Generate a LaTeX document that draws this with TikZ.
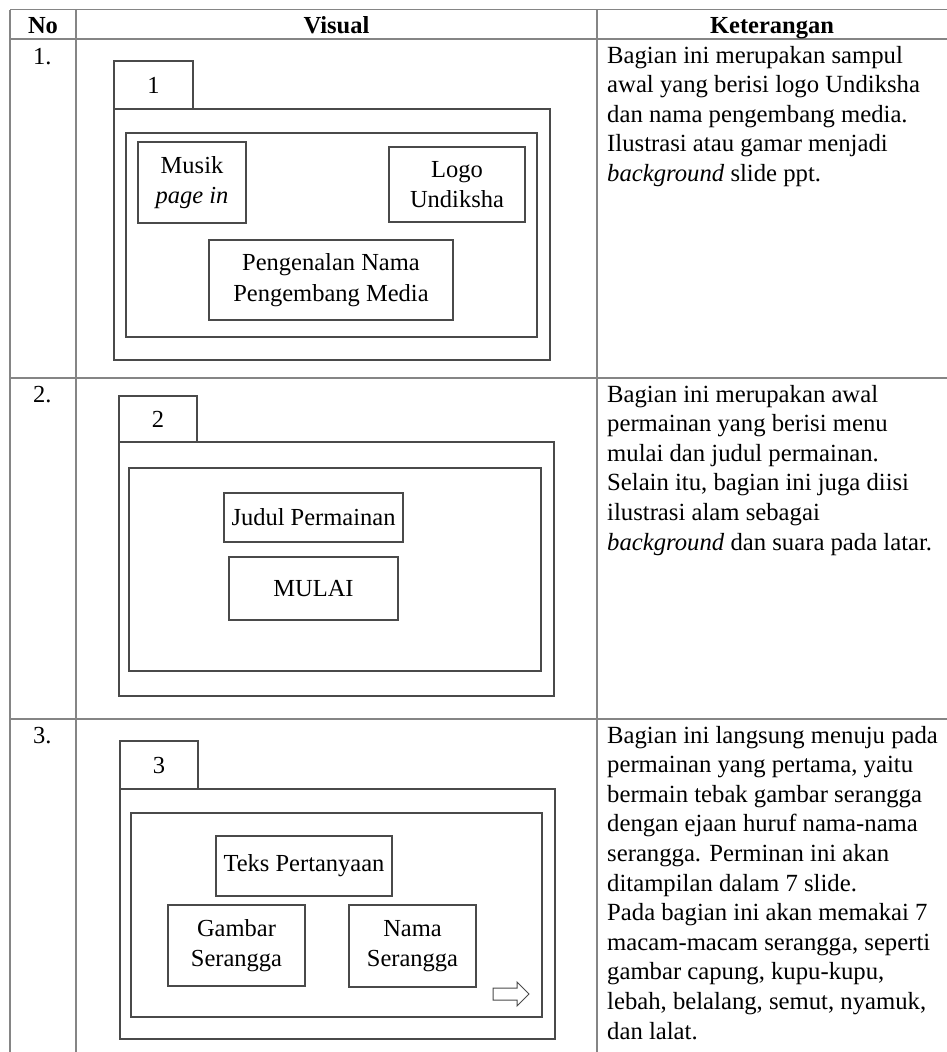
\documentclass[tikz,border=0pt]{standalone}
\usepackage{fontspec}
\setmainfont{Liberation Serif}
\begin{document}
\begin{tikzpicture}[x=1pt,y=-1pt,
  tline/.style={draw=tablec, line width=1.1pt},
  box/.style={draw=boxc, line width=1.1pt, inner sep=0pt, align=center,
    font=\fontsize{24.5}{30.5}\selectfont},
  frame/.style={draw=boxc, line width=1.1pt, inner sep=0pt},
  hdr/.style={inner sep=0pt, anchor=base, font=\fontsize{24.5}{28}\selectfont\bfseries},
  num/.style={inner sep=0pt, anchor=base west, font=\fontsize{24.5}{28}\selectfont},
  ket/.style={inner sep=0pt, anchor=base west}]
\definecolor{tablec}{HTML}{858585}
\definecolor{boxc}{HTML}{4A4A4A}
\useasboundingbox (0,0) rectangle (947,1052);
\fill[white] (0,0) rectangle (947,1052);
% table grid
\draw[tline] (10,9.5) -- (947,9.5);
\draw[tline] (10,39) -- (947,39);
\draw[tline] (10,378) -- (947,378);
\draw[tline] (10,719) -- (947,719);
\draw[tline] (10,9.5) -- (10,1052);
\draw[tline] (76,9.5) -- (76,1052);
\draw[tline] (597,9.5) -- (597,1052);
% headers
\node[hdr] (hno) at (43,33) {No};
\node[hdr] (hvis) at (336.5,33) {Visual};
\node[hdr] (hket) at (772,33) {Keterangan};
% numbers
\node[num] (n1) at (33,64) {1.};
\node[num] (n2) at (33,402) {2.};
\node[num] (n3) at (33,743) {3.};
% descriptions
\newcommand{\ketpar}[1]{\parbox[t]{345pt}{\fontsize{24.7}{29.6}\selectfont\raggedright #1}}
\node[ket] (k1) at (607,63) {\ketpar{Bagian ini merupakan sampul\\awal yang berisi logo Undiksha\\dan nama pengembang media.\\Ilustrasi atau gamar menjadi\\\textit{background} slide ppt.}};
\node[ket] (k2) at (607,402) {\ketpar{Bagian ini merupakan awal\\permainan yang berisi menu\\mulai dan judul permainan.\\Selain itu, bagian ini juga diisi\\ilustrasi alam sebagai\\\textit{background} dan suara pada latar.}};
\node[ket] (k3) at (607,743) {\ketpar{Bagian ini langsung menuju pada\\permainan yang pertama, yaitu\\bermain tebak gambar serangga\\dengan ejaan huruf nama-nama\\serangga. Perminan ini akan\\ditampilan dalam 7 slide.\\Pada bagian ini akan memakai 7\\macam-macam serangga, seperti\\gambar capung, kupu-kupu,\\lebah, belalang, semut, nyamuk,\\dan lalat.}};
% ---- row 1 visual
\node[frame, minimum width=436pt, minimum height=251pt] (o1) at (332,234.5) {};
\node[frame, minimum width=411pt, minimum height=204pt] (i1) at (331.5,235) {};
\node[box, minimum width=79pt, minimum height=48pt] (t1) at (153.5,85) {1};
\node[box, minimum width=108pt, minimum height=81pt] (musik) at (192,182.5) {Musik\\\textit{page in}};
\node[box, minimum width=136pt, minimum height=75pt] (logo) at (457,184.5) {Logo\\Undiksha};
\node[box, minimum width=244pt, minimum height=80pt] (peng) at (331,280) {Pengenalan Nama\\Pengembang Media};
% ---- row 2 visual
\node[frame, minimum width=435pt, minimum height=254pt] (o2) at (336.5,569) {};
\node[frame, minimum width=412pt, minimum height=203pt] (i2) at (335,569.5) {};
\node[box, minimum width=78pt, minimum height=46pt] (t2) at (158,419) {2};
\node[box, minimum width=179pt, minimum height=49pt] (judul) at (313.5,517.5) {Judul Permainan};
\node[box, minimum width=169pt, minimum height=63pt] (mulai) at (313.5,588.5) {MULAI};
% ---- row 3 visual
\node[frame, minimum width=435pt, minimum height=250pt] (o3) at (337.5,914) {};
\node[frame, minimum width=411pt, minimum height=204pt] (i3) at (336.5,915) {};
\node[box, minimum width=78pt, minimum height=48pt] (t3) at (159,765) {3};
\node[box, minimum width=176pt, minimum height=60pt] (teks) at (304,866) {Teks Pertanyaan};
\node[box, minimum width=137pt, minimum height=81pt] (gambar) at (236.5,945.5) {Gambar\\Serangga};
\node[box, minimum width=127pt, minimum height=82pt] (nama) at (412.5,946) {Nama\\Serangga};
\draw[draw=boxc, line width=1pt, line join=miter] (493,988) -- (517,988) -- (517,982) -- (529,994) -- (517,1006) -- (517,1000) -- (493,1000) -- cycle;
\end{tikzpicture}
\end{document}
